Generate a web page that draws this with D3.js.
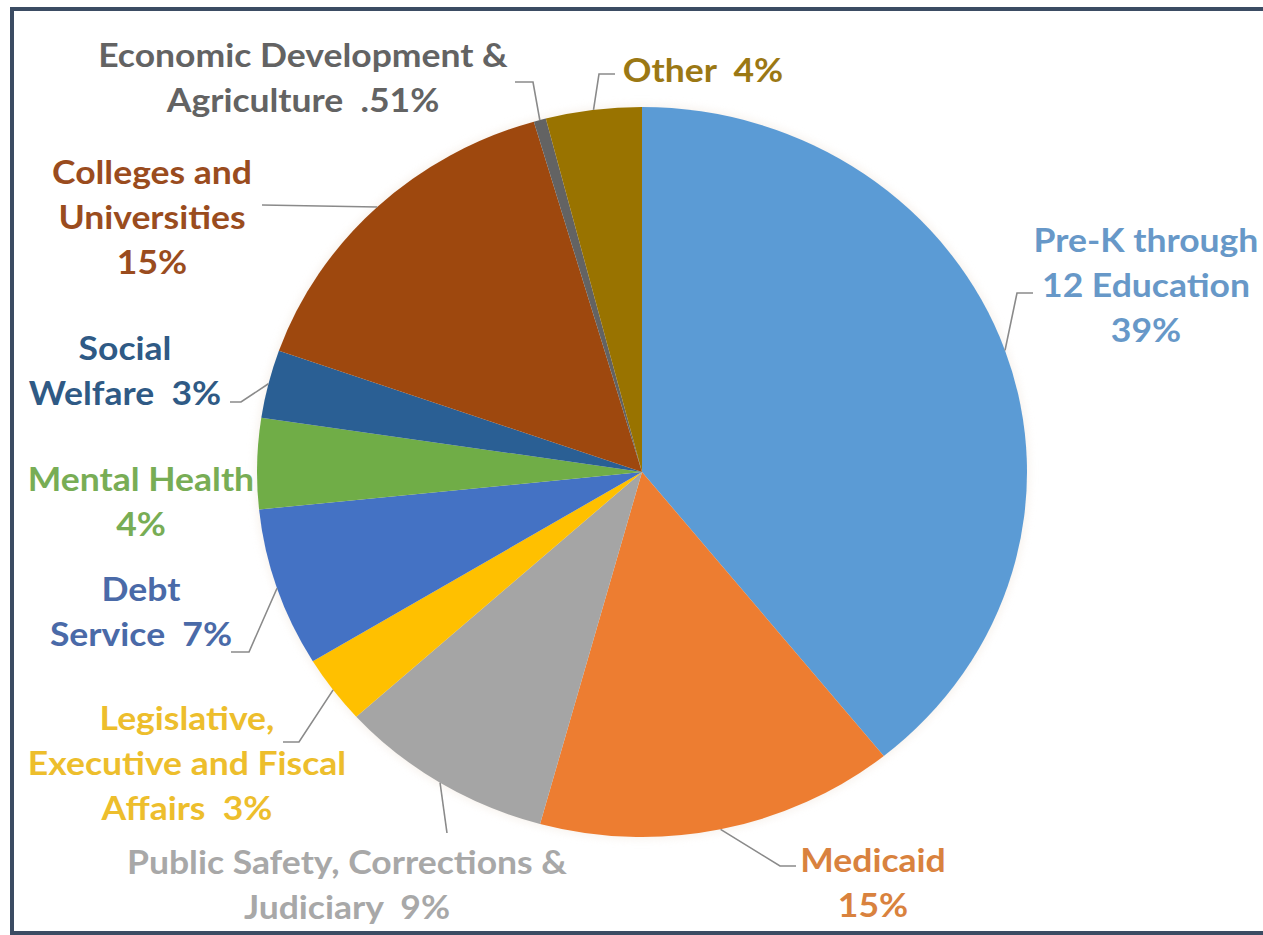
<!DOCTYPE html>
<html>
<head>
<meta charset="utf-8">
<script src="https://cdn.jsdelivr.net/npm/d3@7"></script>
<style>
  html, body { margin: 0; padding: 0; background: #ffffff; }
  svg { display: block; }
  text { font-family: Lato, "Open Sans", sans-serif; font-weight: 700; }
</style>
</head>
<body>
<svg id="chart" width="1263" height="935"></svg>
<script>
// ---- data ----
const categories = [
  "Pre-K through 12 Education",
  "Medicaid",
  "Public Safety, Corrections & Judiciary",
  "Legislative, Executive and Fiscal Affairs",
  "Debt Service",
  "Mental Health",
  "Social Welfare",
  "Colleges and Universities",
  "Economic Development & Agriculture",
  "Other"
];
const values = [39, 15, 9, 3, 7, 4, 3, 15, 0.51, 4];
const labelLines = [
  ["Pre-K through", "12 Education", "39%"],
  ["Medicaid", "15%"],
  ["Public Safety, Corrections &", "Judiciary  9%"],
  ["Legislative,", "Executive and Fiscal", "Affairs  3%"],
  ["Debt", "Service  7%"],
  ["Mental Health", "4%"],
  ["Social", "Welfare  3%"],
  ["Colleges and", "Universities", "15%"],
  ["Economic Development &", "Agriculture  .51%"],
  ["Other  4%"]
];
const sliceColors = ["#5B9BD5", "#ED7D31", "#A5A5A5", "#FFC000", "#4472C4",
                     "#70AD47", "#2A5F94", "#9E480E", "#636363", "#997300"];
const textColors  = ["#6798C8", "#D9823E", "#A8A8A8", "#EDBE2C", "#4A6AA8",
                     "#78AD55", "#2F5A85", "#9A4C1E", "#636363", "#9B7814"];

// ---- layout ----
const W = 1263, H = 935;
const cx = 642, cy = 472, ry = 365, rx = 385;
const sx = rx / ry;
const lineH = 45;
const fontSize = 32, textStretch = 1.11;
// label anchor: x center, y center of first line; leader: [elbow, end] points
const labelLayout = [
  { x: 1146, y: 240, leader: [[1017, 293], [1033, 293]] },
  { x: 873,  y: 860, leader: [[780, 866], [796, 866]] },
  { x: 347,  y: 862, leader: [[447, 833], [447, 833]] },
  { x: 187,  y: 718, leader: [[299, 742], [283, 742]] },
  { x: 141,  y: 589, leader: [[249, 652], [231, 652]] },
  { x: 141,  y: 479, leader: null },
  { x: 125,  y: 348, leader: [[241, 402], [230, 402]] },
  { x: 152,  y: 172, leader: [[262, 205], [262, 205]] },
  { x: 303,  y: 55,  leader: [[533, 82], [515, 82]] },
  { x: 703,  y: 70,  leader: [[599, 74], [615, 74]] }
];

const svg = d3.select("#chart");

// frame
svg.append("path")
  .attr("d", `M1270,9 L12,9 L12,933 L1270,933`)
  .attr("fill", "none")
  .attr("stroke", "#3B4C63")
  .attr("stroke-width", 4);

const data = categories.map((c, i) => ({ name: c, value: values[i], i }));
const pie = d3.pie().value(d => d.value).sort(null);
const arcs = pie(data);
const arc = d3.arc().innerRadius(0).outerRadius(ry);

// soft glow under pie
const defs = svg.append("defs");
const f = defs.append("filter").attr("id", "glow").attr("x", "-10%").attr("y", "-10%")
  .attr("width", "120%").attr("height", "120%");
f.append("feGaussianBlur").attr("stdDeviation", 4);

const pieG = svg.append("g").attr("transform", `translate(${cx},${cy}) scale(${sx},1)`);
pieG.append("ellipse").attr("cx", 0).attr("cy", 0).attr("rx", ry + 2).attr("ry", ry + 2)
  .attr("fill", "#f2e9e0").attr("filter", "url(#glow)").attr("opacity", 0.6);
pieG.selectAll("path.slice")
  .data(arcs)
  .join("path")
  .attr("class", "slice")
  .attr("d", arc)
  .attr("fill", d => sliceColors[d.data.i]);

// leader lines
arcs.forEach(a => {
  const L = labelLayout[a.data.i];
  if (!L.leader) return;
  const mid = (a.startAngle + a.endAngle) / 2;
  const px = cx + rx * Math.sin(mid);
  const py = cy - ry * Math.cos(mid);
  const pts = [[px, py], ...L.leader];
  svg.append("path")
    .attr("d", d3.line()(pts))
    .attr("fill", "none")
    .attr("stroke", "#8A8A8A")
    .attr("stroke-width", 1.6);
});

// labels
labelLines.forEach((lines, i) => {
  const L = labelLayout[i];
  const t = svg.append("text")
    .attr("transform", `translate(${L.x},0) scale(${textStretch},1)`)
    .attr("text-anchor", "middle")
    .attr("fill", textColors[i])
    .attr("font-size", fontSize);
  lines.forEach((ln, k) => {
    t.append("tspan")
      .attr("x", 0)
      .attr("y", L.y + k * lineH)
      .attr("dy", "0.36em")
      .attr("xml:space", "preserve")
      .style("white-space", "pre")
      .text(ln);
  });
});
</script>
</body>
</html>
